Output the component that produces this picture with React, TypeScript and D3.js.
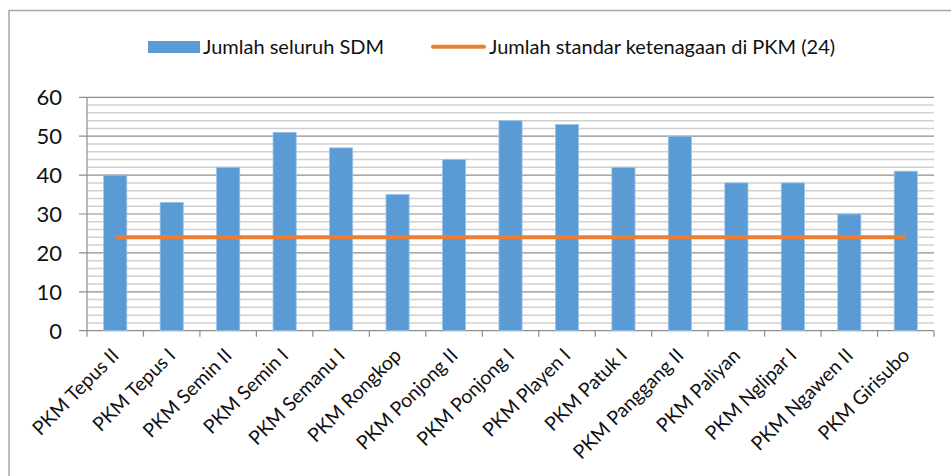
import React from 'react';
import * as d3 from 'd3';

const categories = [
  'PKM Tepus II', 'PKM Tepus I', 'PKM Semin II', 'PKM Semin I', 'PKM Semanu I',
  'PKM Rongkop', 'PKM Ponjong II', 'PKM Ponjong I', 'PKM Playen I', 'PKM Patuk I',
  'PKM Panggang II', 'PKM Paliyan', 'PKM Nglipar I', 'PKM Ngawen II', 'PKM Girisubo',
];
const totalSdm = [40, 33, 42, 51, 47, 35, 44, 54, 53, 42, 50, 38, 38, 30, 41];
const standard = categories.map(() => 24);
const yTicks = [0, 10, 20, 30, 40, 50, 60];
const minorTicks = d3.range(0, 61, 2);
const seriesNames = ['Jumlah seluruh SDM', 'Jumlah standar ketenagaan di PKM (24)'];

const W = 951;
const H = 476;
const plot = { left: 87, right: 934, top: 97.3, bottom: 330.7 };
const FONT = 'Lato, "Open Sans", sans-serif';
const BAR = '#5B9BD5';
const LINE = '#ED7D31';

export default function App() {
  const x = d3.scaleBand<string>().domain(categories).range([plot.left, plot.right]);
  const y = d3.scaleLinear().domain([0, 60]).range([plot.bottom, plot.top]);
  const bw = x.bandwidth();
  const barW = bw * 0.41;
  const cx = (c: string) => (x(c) as number) + bw / 2;

  const line = d3
    .line<number>()
    .x((_, i) => cx(categories[i]))
    .y((d) => y(d));

  const tickXs = categories.map((c) => x(c) as number).concat([plot.right]);

  return (
    <svg
      width={W}
      height={H}
      style={{ position: 'absolute', left: 0, top: 0, background: '#fff' }}
      fontFamily={FONT}
    >
      {/* outer frame */}
      <line x1={9} x2={W} y1={10.5} y2={10.5} stroke="#a6a6a6" strokeWidth={1.5} />
      <line x1={9} x2={9} y1={10} y2={H} stroke="#a6a6a6" strokeWidth={1.5} />

      {/* legend */}
      <rect x={148} y={41} width={52} height={12} fill={BAR} />
      <text x={203} y={53.5} fontSize={20} fill="#111">{seriesNames[0]}</text>
      <line x1={433} x2={484} y1={46.7} y2={46.7} stroke={LINE} strokeWidth={4} strokeLinecap="round" />
      <text x={489} y={53.5} fontSize={20} fill="#111">{seriesNames[1]}</text>

      {/* gridlines */}
      {minorTicks.filter((t) => t % 10 !== 0).map((t) => (
        <line key={'m' + t} x1={plot.left} x2={plot.right} y1={y(t)} y2={y(t)} stroke="#d0d0d0" strokeWidth={1.5} />
      ))}
      {yTicks.map((t) => (
        <line key={'g' + t} x1={plot.left - 8} x2={plot.right} y1={y(t)} y2={y(t)} stroke="#8c8c8c" strokeWidth={1.2} />
      ))}

      {/* y axis */}
      <line x1={plot.left} x2={plot.left} y1={plot.top} y2={plot.bottom} stroke="#8c8c8c" strokeWidth={1.2} />
      {yTicks.map((t) => (
        <text key={'yl' + t} x={62} y={y(t)} dy="0.36em" textAnchor="end" fontSize={22} fill="#111">
          {t}
        </text>
      ))}

      {/* bars */}
      {categories.map((c, i) => (
        <rect
          key={c}
          x={cx(c) - barW / 2}
          y={y(totalSdm[i])}
          width={barW}
          height={plot.bottom - y(totalSdm[i])}
          fill={BAR}
          stroke="#9cc3e8"
          strokeWidth={0.8}
        />
      ))}

      {/* x axis */}
      {tickXs.map((tx, i) => (
        <line key={'xt' + i} x1={tx} x2={tx} y1={plot.bottom} y2={plot.bottom + 6} stroke="#8c8c8c" strokeWidth={1.2} />
      ))}
      {categories.map((c) => (
        <text
          key={'xl' + c}
          transform={`translate(${cx(c) + 5},${plot.bottom + 26}) rotate(-45)`}
          textAnchor="end"
          fontSize={19.5}
          fill="#111"
        >
          {c}
        </text>
      ))}

      {/* standard line */}
      <path d={line(standard) || ''} fill="none" stroke={LINE} strokeWidth={4} />
    </svg>
  );
}
